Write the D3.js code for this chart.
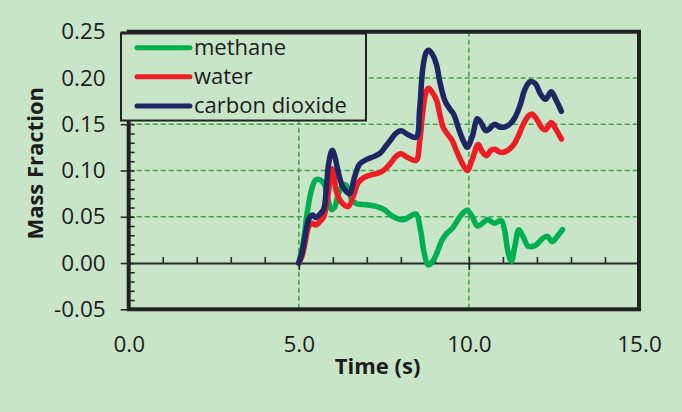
<!DOCTYPE html>
<html>
<head>
<meta charset="utf-8">
<script src="https://cdn.jsdelivr.net/npm/d3@7"></script>
<style>
  html, body { margin: 0; padding: 0; background: #c8e5c8; }
  svg { display: block; }
  text { font-family: "Open Sans", sans-serif; fill: #1c1c1c; }
</style>
</head>
<body>
<svg id="chart" width="682" height="412"></svg>
<script>
// Mass fraction of each species versus time: [time (s), mass fraction]
const methane = [
  [5.0,0],[5.12,0.02],[5.25,0.055],[5.38,0.080],[5.5,0.090],[5.62,0.090],[5.75,0.085],
  [5.85,0.070],[5.95,0.058],[6.05,0.060],[6.15,0.073],[6.25,0.082],[6.35,0.085],[6.45,0.081],
  [6.55,0.069],[6.7,0.064],[7.0,0.063],[7.3,0.061],[7.5,0.058],[7.7,0.052],[7.9,0.048],
  [8.1,0.047],[8.3,0.051],[8.45,0.053],[8.58,0.035],[8.68,0.012],[8.8,-0.002],[8.92,0.001],
  [9.05,0.010],[9.2,0.024],[9.35,0.032],[9.5,0.037],[9.65,0.045],[9.8,0.053],[9.95,0.057],
  [10.1,0.050],[10.25,0.040],[10.4,0.043],[10.55,0.047],[10.75,0.043],[10.95,0.046],
  [11.05,0.035],[11.15,0.012],[11.25,0.002],[11.35,0.018],[11.47,0.036],[11.6,0.028],
  [11.75,0.018],[11.95,0.019],[12.15,0.026],[12.3,0.029],[12.45,0.023],[12.6,0.029],[12.75,0.036]
];
const water = [
  [5.0,0],[5.1,0.008],[5.2,0.025],[5.3,0.040],[5.4,0.043],[5.5,0.041],[5.6,0.044],[5.73,0.050],
  [5.82,0.064],[5.9,0.085],[5.97,0.102],[6.03,0.095],[6.1,0.078],[6.25,0.066],[6.45,0.061],
  [6.6,0.072],[6.75,0.087],[6.9,0.092],[7.1,0.095],[7.4,0.098],[7.55,0.102],[7.7,0.108],
  [7.85,0.115],[8.0,0.118],[8.2,0.114],[8.45,0.111],[8.55,0.130],[8.65,0.165],[8.75,0.186],
  [8.82,0.189],[8.95,0.183],[9.05,0.176],[9.15,0.160],[9.25,0.146],[9.4,0.138],[9.5,0.133],
  [9.65,0.120],[9.8,0.108],[9.95,0.100],[10.1,0.112],[10.27,0.128],[10.4,0.120],[10.52,0.116],
  [10.65,0.122],[10.76,0.123],[10.9,0.120],[11.0,0.1195],[11.15,0.122],[11.3,0.127],
  [11.45,0.137],[11.6,0.150],[11.75,0.159],[11.85,0.161],[12.0,0.155],[12.15,0.146],
  [12.25,0.144],[12.42,0.152],[12.55,0.145],[12.72,0.134]
];
const carbonDioxide = [
  [5.0,0],[5.1,0.012],[5.2,0.032],[5.3,0.048],[5.4,0.052],[5.5,0.049],[5.6,0.052],[5.73,0.058],
  [5.81,0.082],[5.88,0.108],[5.98,0.122],[6.06,0.115],[6.15,0.100],[6.3,0.082],[6.49,0.075],
  [6.64,0.093],[6.79,0.107],[7.0,0.112],[7.2,0.115],[7.4,0.119],[7.55,0.126],[7.7,0.133],
  [7.85,0.140],[8.0,0.143],[8.2,0.139],[8.45,0.136],[8.55,0.165],[8.65,0.212],[8.75,0.228],
  [8.82,0.230],[8.95,0.224],[9.05,0.214],[9.15,0.195],[9.3,0.175],[9.45,0.166],[9.55,0.161],
  [9.7,0.145],[9.85,0.131],[9.95,0.125],[10.1,0.137],[10.25,0.156],[10.35,0.152],[10.5,0.143],
  [10.6,0.145],[10.76,0.150],[10.9,0.147],[11.05,0.147],[11.2,0.150],[11.35,0.157],
  [11.5,0.170],[11.65,0.188],[11.8,0.196],[11.95,0.194],[12.1,0.183],[12.25,0.177],
  [12.42,0.185],[12.55,0.177],[12.72,0.164]
];

const seriesNames = ["methane", "water", "carbon dioxide"];
const xTicks = [0, 5, 10, 15];
const yTicks = [-0.05, 0, 0.05, 0.10, 0.15, 0.20, 0.25];
const xGrid = [5, 10];
const yGrid = [0.05, 0.10, 0.15, 0.20];

const colors = ["#00b050", "#ee1d25", "#1f2662"];
const bg = "#c8e5c8";
const ink = "#1c1c1c";

const svg = d3.select("#chart");
svg.append("rect").attr("width", 682).attr("height", 412).attr("fill", bg);

const plotLeft = 128.7, plotRight = 639, plotTop = 31.7, plotBottom = 309.3;
const x = d3.scaleLinear().domain([0, 15]).range([plotLeft, plotRight]);
const y = d3.scaleLinear().domain([-0.05, 0.25]).range([plotBottom, plotTop]);

// dashed grid
const grid = svg.append("g")
  .attr("stroke", "#3fa448").attr("stroke-width", 1.5).attr("stroke-dasharray", "5,3");
grid.selectAll("line.h").data(yGrid).join("line").attr("class", "h")
  .attr("x1", plotLeft).attr("x2", plotRight).attr("y1", d => y(d)).attr("y2", d => y(d));
grid.selectAll("line.v").data(xGrid).join("line").attr("class", "v")
  .attr("x1", d => x(d)).attr("x2", d => x(d)).attr("y1", plotTop).attr("y2", plotBottom);

// horizontal axis through zero: minor ticks every second pointing up, major ticks crossing
const x0 = svg.append("g").attr("transform", `translate(0,${y(0)})`);
x0.append("g").call(d3.axisTop(x).tickValues(d3.range(0, 16, 1)).tickSize(6).tickFormat(""))
  .call(g => g.select(".domain").attr("stroke", "#2a2a2a").attr("stroke-width", 2))
  .call(g => g.selectAll(".tick line").attr("stroke", "#2a2a2a").attr("stroke-width", 1.6));
x0.append("g").call(d3.axisBottom(x).tickValues(xTicks).tickSize(7).tickFormat(""))
  .call(g => g.select(".domain").remove())
  .call(g => g.selectAll(".tick line").attr("stroke", "#2a2a2a").attr("stroke-width", 1.6));

// x tick labels along the bottom of the plot
svg.append("g").attr("transform", `translate(0,${plotBottom})`)
  .call(d3.axisBottom(x).tickValues(xTicks).tickSize(0).tickPadding(27).tickFormat(d3.format(".1f")))
  .call(g => g.select(".domain").remove())
  .call(g => g.selectAll("text").attr("font-size", 22.5).attr("font-family", "Open Sans").attr("fill", ink));

// vertical axis: minor ticks inside, major ticks crossing, labels on the left
const yAxisG = svg.append("g").attr("transform", `translate(${plotLeft},0)`);
yAxisG.append("g")
  .call(d3.axisRight(y).tickValues(d3.range(-5, 26, 1).map(d => d / 100)).tickSize(6).tickFormat(""))
  .call(g => g.select(".domain").remove())
  .call(g => g.selectAll(".tick line").attr("stroke", "#2a2a2a").attr("stroke-width", 1.6));
yAxisG.append("g")
  .call(d3.axisLeft(y).tickValues(yTicks).tickSize(8).tickPadding(15).tickFormat(d3.format(".2f")))
  .call(g => g.select(".domain").remove())
  .call(g => g.selectAll(".tick line").attr("stroke", "#2a2a2a").attr("stroke-width", 1.6))
  .call(g => g.selectAll("text").attr("font-size", 22.5).attr("font-family", "Open Sans").attr("fill", ink)
    .text(d => d < 0 ? "-" + d3.format(".2f")(-d) : d3.format(".2f")(d)));

// plot frame
svg.append("rect")
  .attr("x", plotLeft).attr("y", plotTop).attr("width", plotRight - plotLeft).attr("height", plotBottom - plotTop)
  .attr("fill", "none").attr("stroke", "#222").attr("stroke-width", 4);

// series
const line = d3.line().x(d => x(d[0])).y(d => y(d[1])).curve(d3.curveCatmullRom.alpha(0.5));
const allSeries = [methane, water, carbonDioxide];
svg.append("g").selectAll("path").data(allSeries).join("path")
  .attr("d", line)
  .attr("fill", "none")
  .attr("stroke", (d, i) => colors[i])
  .attr("stroke-width", 5.5)
  .attr("stroke-linecap", "round")
  .attr("stroke-linejoin", "round");

// legend
const legend = svg.append("g");
legend.append("rect")
  .attr("x", 121).attr("y", 33.5).attr("width", 245).attr("height", 87)
  .attr("fill", bg).attr("stroke", "#222").attr("stroke-width", 2);
const rowY = [47.7, 76.7, 106];
const rows = legend.selectAll("g.row").data(seriesNames).join("g").attr("class", "row")
  .attr("transform", (d, i) => `translate(0,${rowY[i]})`);
rows.append("line").attr("x1", 137).attr("x2", 190).attr("y1", 0).attr("y2", 0)
  .attr("stroke", (d, i) => colors[i]).attr("stroke-width", 5).attr("stroke-linecap", "round");
rows.append("text").attr("x", 194).attr("y", 7).attr("font-size", 22).text(d => d);

// axis titles
svg.append("text")
  .attr("x", 377.6).attr("y", 374)
  .attr("text-anchor", "middle").attr("font-size", 22).attr("font-weight", "bold")
  .text("Time (s)");
svg.append("text")
  .attr("transform", "translate(42.5,163.3) rotate(-90)")
  .attr("text-anchor", "middle").attr("font-size", 22).attr("font-weight", "bold")
  .text("Mass Fraction");
</script>
</body>
</html>
